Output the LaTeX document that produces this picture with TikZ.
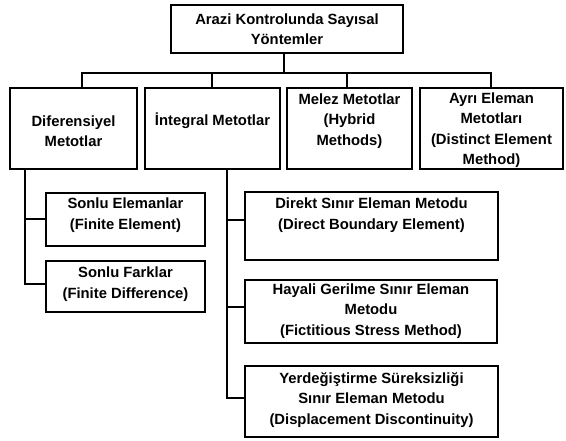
\documentclass[tikz,border=0pt]{standalone}
\usepackage{fontspec}
\setmainfont{Liberation Sans}
\begin{document}
\begin{tikzpicture}[x=1pt,y=-1pt,
  box/.style={draw=black,line width=1.7pt,rectangle,inner sep=0pt,outer sep=0pt},
  lbl/.style={align=center,inner sep=0pt,font=\fontsize{14.8}{20.5}\selectfont\bfseries},
  conn/.style={draw=black,line width=1.7pt}]
\useasboundingbox[fill=white] (0,0) rectangle (566,441);
% boxes
\node[box,minimum width=232,minimum height=48] (top) at (287,29) {};
\node[box,minimum width=127,minimum height=81] (dif) at (73.5,128.5) {};
\node[box,minimum width=135,minimum height=81] (int) at (212.5,128.5) {};
\node[box,minimum width=125,minimum height=81] (mel) at (349.5,128.5) {};
\node[box,minimum width=143,minimum height=81] (ayr) at (491.5,128.5) {};
\node[box,minimum width=159,minimum height=53] (se) at (125.5,219.5) {};
\node[box,minimum width=159,minimum height=51] (sf) at (125.5,286.5) {};
\node[box,minimum width=253,minimum height=68] (dir) at (371.5,226) {};
\node[box,minimum width=252,minimum height=63] (hay) at (371,311.5) {};
\node[box,minimum width=253,minimum height=71] (yer) at (371.5,401.5) {};
% labels
\node[lbl] (top-t) at (287,29) {Arazi Kontrolunda Sayısal\\Yöntemler};
\node[lbl] (dif-t) at (73.5,131) {Diferensiyel\\Metotlar};
\node[lbl] (int-t) at (212.5,121) {İntegral Metotlar};
\node[lbl] (mel-t) at (349.5,121) {Melez Metotlar\\(Hybrid\\Methods)};
\node[lbl] (ayr-t) at (491.5,130) {Ayrı Eleman\\Metotları\\(Distinct Element\\Method)};
\node[lbl] (se-t) at (125.5,215) {Sonlu Elemanlar\\(Finite Element)};
\node[lbl] (sf-t) at (125.5,284) {Sonlu Farklar\\(Finite Difference)};
\node[lbl] (dir-t) at (371.5,215) {Direkt Sınır Eleman Metodu\\(Direct Boundary Element)};
\node[lbl] (hay-t) at (371,311) {Hayali Gerilme Sınır Eleman\\Metodu\\(Fictitious Stress Method)};
\node[lbl] (yer-t) at (371.5,400) {Yerdeğiştirme Süreksizliği\\Sınır Eleman Metodu\\(Displacement Discontinuity)};
% junctions
\coordinate (j0) at (284,73);
\coordinate (j1) at (82,73);
\coordinate (j2) at (212,73);
\coordinate (j3) at (347,73);
\coordinate (j4) at (491,73);
\coordinate (dl) at (25,169);
\coordinate (il) at (227,169);
% connectors
\draw[conn] (j0 |- top.south) -- (j0);
\draw[conn,line cap=rect] (j1) -- (j4);
\draw[conn] (j1) -- (j1 |- dif.north);
\draw[conn] (j2) -- (j2 |- int.north);
\draw[conn] (j3) -- (j3 |- mel.north);
\draw[conn] (j4) -- (j4 |- ayr.north);
\draw[conn] (dl) |- (se.west |- 0,219);
\draw[conn] (dl) |- (sf.west |- 0,284);
\draw[conn] (il) |- (dir.west |- 0,220);
\draw[conn] (il) |- (hay.west |- 0,307);
\draw[conn] (il) |- (yer.west |- 0,398);
\end{tikzpicture}
\end{document}
